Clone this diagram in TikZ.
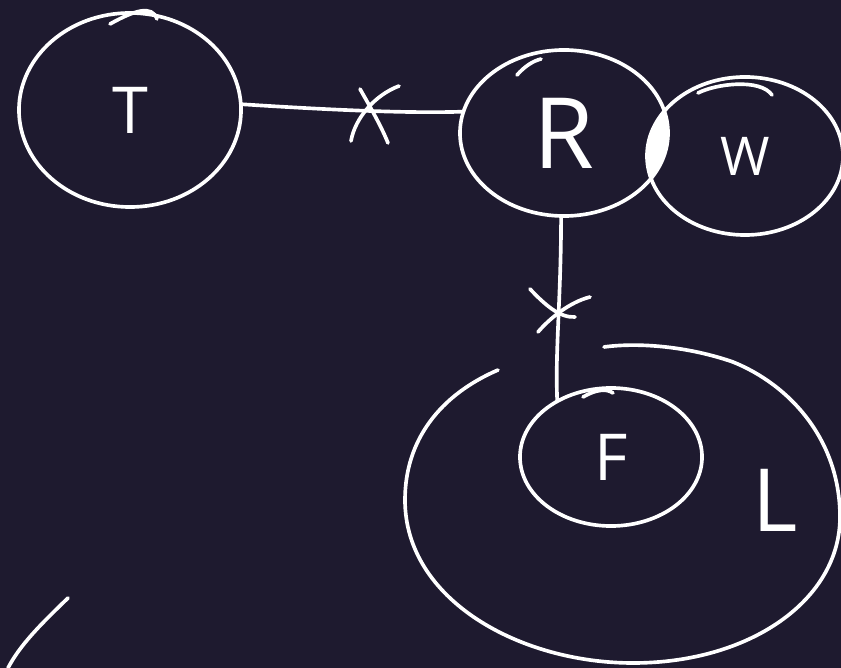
\documentclass[tikz,border=0pt]{standalone}
\usepackage{fontspec}
\setmainfont{Open Sans}
\usepackage{tikz}
\usetikzlibrary{shapes.geometric,positioning,calc}
\definecolor{boardbg}{HTML}{1E1A2F}
\definecolor{chalk}{HTML}{FFFFFF}

\begin{document}
\begin{tikzpicture}[
  x=0.025cm, y=-0.025cm,
  sketch/.style={draw=chalk, line width=2.6pt, line cap=round, line join=round},
  blob/.style={ellipse, sketch, inner sep=0pt, outer sep=0pt, text=chalk},
  lbl/.style={text=chalk, inner sep=0pt},
]
\useasboundingbox (0,0) rectangle (841,668);
\fill[boardbg] (0,0) rectangle (841,668);

% Sets
\node[blob, minimum width=5.55cm, minimum height=4.85cm, font=\fontsize{46}{46}\selectfont] (T) at (130,110) {T};
\node[blob, minimum width=5.2cm, minimum height=4.15cm, font=\fontsize{70}{70}\selectfont] (R) at (564,133) {R};
\node[blob, minimum width=4.9cm, minimum height=3.95cm, font=\fontsize{38}{38}\selectfont] (W) at (745,156) {W};
\node[blob, minimum width=4.55cm, minimum height=3.45cm, font=\fontsize{46}{46}\selectfont] (F) at (611,457) {F};
\node[lbl, font=\fontsize{62}{62}\selectfont] (Llbl) at (775,500) {L};

% overlap of R and W
\begin{scope}
  \clip (R.center) ellipse [x radius=2.6cm, y radius=2.075cm];
  \fill[chalk] (W.center) ellipse [x radius=2.45cm, y radius=1.975cm];
\end{scope}

% pen hooks where the loops close
\draw[sketch] (110,24) .. controls (135,10) and (152,5) .. (157,19);
\draw[sketch] (517,75) .. controls (525,66) and (533,61) .. (541,59);
\draw[sketch] (698,93) .. controls (715,84) and (760,78) .. (772,95);
\draw[sketch] (583,397) .. controls (595,390) and (606,388) .. (613,393);

% L region (open outline)
\draw[sketch] (498,370) .. controls (440,395) and (405,440) .. (405,500)
  .. controls (405,600) and (520,663) .. (633,663)
  .. controls (750,663) and (840,600) .. (840,517)
  .. controls (840,440) and (790,385) .. (733,362)
  .. controls (690,347) and (640,342) .. (604,347);

% Connectors
\draw[sketch] (T.3) .. controls (300,108) and (400,114) .. (R.168);
\draw[sketch] (R.268) .. controls (561,300) and (555,350) .. (F.134);

% crossings
\draw[sketch] (360,89) .. controls (372,110) and (382,128) .. (388,143);
\draw[sketch] (399,86) .. controls (375,95) and (355,118) .. (351,141);
\draw[sketch] (530,289) .. controls (545,305) and (560,318) .. (575,317);
\draw[sketch] (590,297) .. controls (570,302) and (550,318) .. (538,332);

% stray stroke
\draw[sketch] (68,598) .. controls (40,625) and (20,645) .. (8,668);
\end{tikzpicture}
\end{document}
